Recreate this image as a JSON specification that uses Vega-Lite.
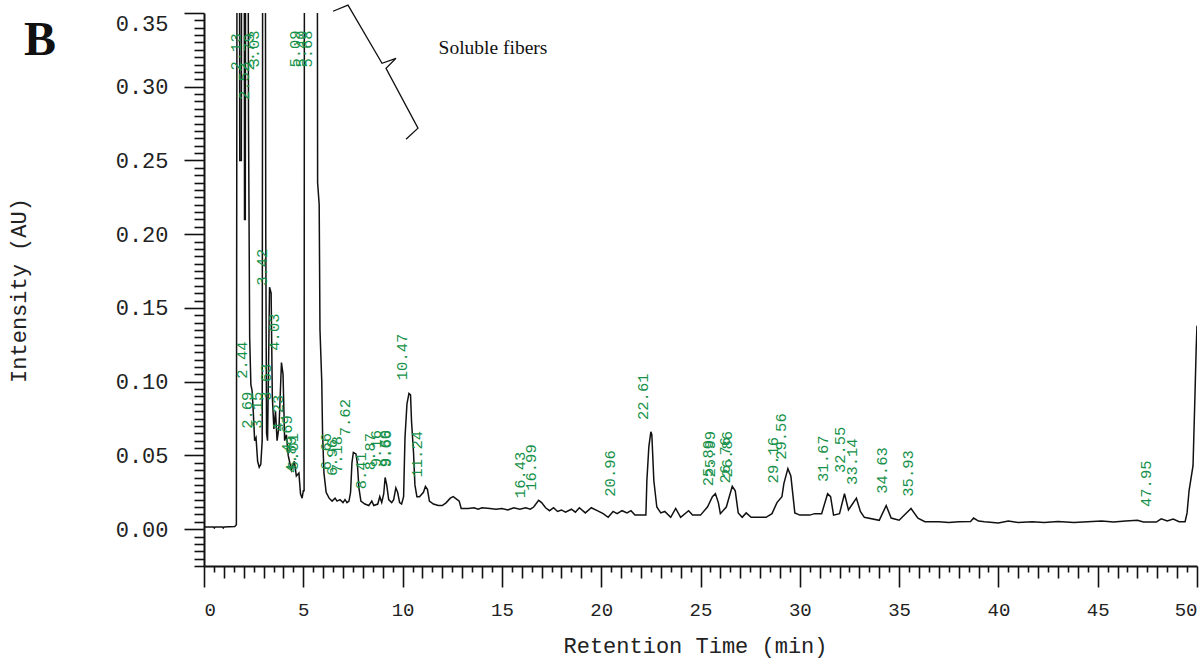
{
  "$schema": "https://vega.github.io/schema/vega-lite/v6.json",
  "width": 993,
  "height": 553,
  "autosize": {"type": "none"},
  "padding": {"left": 204, "top": 13, "right": 6, "bottom": 96},
  "background": "white",
  "config": {"view": {"stroke": null}},
  "title": {"text": "B", "anchor": "start", "frame": "group", "font": "Liberation Serif", "fontSize": 48, "fontWeight": "bold", "color": "#111", "baseline": "alphabetic", "dx": -180, "dy": 100, "offset": 0},
  "datasets": {
    "trace": [
      {"t":0,"v":0.0015},{"t":0.48,"v":0.0015},{"t":0.52,"v":0.0008},{"t":0.56,"v":0.0015},{"t":0.93,"v":0.0015},{"t":0.97,"v":0.0008},{"t":1.01,"v":0.0015},{"t":1.55,"v":0.0018},{"t":1.63,"v":0.003},
      {"t":1.67,"v":0.5},{"t":1.78,"v":0.5},{"t":1.80,"v":0.25},{"t":1.88,"v":0.25},{"t":1.90,"v":0.5},{"t":2.02,"v":0.5},{"t":2.04,"v":0.21},{"t":2.08,"v":0.21},{"t":2.10,"v":0.5},{"t":2.21,"v":0.5},{"t":2.24,"v":0.28},{"t":2.30,"v":0.13},{"t":2.36,"v":0.098},{"t":2.42,"v":0.094},{"t":2.48,"v":0.08},{"t":2.55,"v":0.06},{"t":2.62,"v":0.062},{"t":2.70,"v":0.046},{"t":2.78,"v":0.042},{"t":2.86,"v":0.044},{"t":2.93,"v":0.06},
      {"t":2.96,"v":0.5},{"t":3.08,"v":0.5},{"t":3.11,"v":0.2},{"t":3.15,"v":0.065},{"t":3.20,"v":0.06},{"t":3.25,"v":0.11},{"t":3.30,"v":0.164},{"t":3.38,"v":0.16},{"t":3.44,"v":0.09},{"t":3.52,"v":0.068},{"t":3.60,"v":0.08},{"t":3.68,"v":0.06},{"t":3.78,"v":0.07},{"t":3.90,"v":0.113},{"t":3.98,"v":0.105},{"t":4.06,"v":0.06},{"t":4.15,"v":0.064},{"t":4.24,"v":0.05},{"t":4.40,"v":0.04},{"t":4.55,"v":0.046},{"t":4.65,"v":0.036},{"t":4.78,"v":0.038},{"t":4.86,"v":0.024},{"t":4.94,"v":0.021},{"t":5.00,"v":0.026},{"t":5.04,"v":0.026},
      {"t":5.06,"v":0.5},{"t":5.70,"v":0.5},{"t":5.72,"v":0.235},{"t":5.80,"v":0.22},{"t":5.84,"v":0.135},{"t":5.93,"v":0.1},{"t":5.97,"v":0.065},{"t":6.04,"v":0.038},{"t":6.15,"v":0.025},
      {"t":6.30,"v":0.021},{"t":6.45,"v":0.019},{"t":6.60,"v":0.021},{"t":6.70,"v":0.019},{"t":6.85,"v":0.020},{"t":7.00,"v":0.018},{"t":7.10,"v":0.020},{"t":7.20,"v":0.018},{"t":7.30,"v":0.019},{"t":7.38,"v":0.025},{"t":7.45,"v":0.045},{"t":7.52,"v":0.052},{"t":7.65,"v":0.051},{"t":7.72,"v":0.045},{"t":7.80,"v":0.028},{"t":7.90,"v":0.019},{"t":8.10,"v":0.017},{"t":8.30,"v":0.016},{"t":8.45,"v":0.019},{"t":8.55,"v":0.016},{"t":8.75,"v":0.017},{"t":8.85,"v":0.022},{"t":8.95,"v":0.018},{"t":9.05,"v":0.024},{"t":9.12,"v":0.035},{"t":9.20,"v":0.030},{"t":9.30,"v":0.020},{"t":9.45,"v":0.018},{"t":9.55,"v":0.020},{"t":9.66,"v":0.028},{"t":9.75,"v":0.025},{"t":9.85,"v":0.018},{"t":9.95,"v":0.017},{"t":10.05,"v":0.022},{"t":10.12,"v":0.062},{"t":10.22,"v":0.085},{"t":10.32,"v":0.092},{"t":10.40,"v":0.091},{"t":10.45,"v":0.073},{"t":10.55,"v":0.052},{"t":10.62,"v":0.030},{"t":10.72,"v":0.022},{"t":10.85,"v":0.022},{"t":11.05,"v":0.025},{"t":11.15,"v":0.029},{"t":11.25,"v":0.027},{"t":11.35,"v":0.019},{"t":11.55,"v":0.017},{"t":11.80,"v":0.016},{"t":12.00,"v":0.016},{"t":12.20,"v":0.018},{"t":12.40,"v":0.021},{"t":12.55,"v":0.022},{"t":12.75,"v":0.020},{"t":12.85,"v":0.019},{"t":12.95,"v":0.014},
      {"t":13.3,"v":0.014},{"t":13.6,"v":0.0145},{"t":13.8,"v":0.0135},{"t":14.0,"v":0.0145},{"t":14.4,"v":0.014},{"t":14.7,"v":0.0135},{"t":15.0,"v":0.014},{"t":15.3,"v":0.013},{"t":15.6,"v":0.0145},{"t":15.9,"v":0.0135},{"t":16.2,"v":0.0145},{"t":16.43,"v":0.0135},{"t":16.6,"v":0.015},{"t":16.85,"v":0.0195},{"t":17.0,"v":0.018},{"t":17.2,"v":0.0145},{"t":17.4,"v":0.0125},{"t":17.6,"v":0.0145},{"t":17.8,"v":0.012},{"t":18.0,"v":0.013},{"t":18.2,"v":0.0115},{"t":18.5,"v":0.0135},{"t":18.7,"v":0.0115},{"t":18.9,"v":0.0145},{"t":19.2,"v":0.011},{"t":19.5,"v":0.0145},{"t":19.8,"v":0.0125},{"t":20.1,"v":0.0105},{"t":20.35,"v":0.008},{"t":20.6,"v":0.012},{"t":20.8,"v":0.0105},{"t":21.05,"v":0.0125},{"t":21.3,"v":0.011},{"t":21.5,"v":0.0125},{"t":21.7,"v":0.0095},{"t":22.0,"v":0.0095},{"t":22.25,"v":0.0095},
      {"t":22.3,"v":0.033},{"t":22.4,"v":0.056},{"t":22.5,"v":0.066},{"t":22.55,"v":0.064},{"t":22.65,"v":0.033},{"t":22.8,"v":0.015},{"t":23.0,"v":0.011},{"t":23.2,"v":0.012},{"t":23.5,"v":0.008},{"t":23.75,"v":0.014},{"t":24.0,"v":0.008},{"t":24.4,"v":0.0125},{"t":24.6,"v":0.0095},{"t":25.0,"v":0.0095},{"t":25.35,"v":0.015},{"t":25.6,"v":0.022},{"t":25.75,"v":0.024},{"t":25.9,"v":0.018},{"t":26.0,"v":0.0105},{"t":26.3,"v":0.015},{"t":26.6,"v":0.029},{"t":26.75,"v":0.026},{"t":26.9,"v":0.011},{"t":27.1,"v":0.008},{"t":27.3,"v":0.011},{"t":27.55,"v":0.008},{"t":28.3,"v":0.008},{"t":28.6,"v":0.0105},{"t":28.85,"v":0.018},{"t":29.1,"v":0.022},{"t":29.2,"v":0.031},{"t":29.4,"v":0.041},{"t":29.55,"v":0.036},{"t":29.75,"v":0.011},{"t":30.0,"v":0.0095},{"t":30.5,"v":0.0095},{"t":30.75,"v":0.0105},{"t":31.1,"v":0.0105},{"t":31.4,"v":0.024},{"t":31.55,"v":0.022},{"t":31.7,"v":0.0095},{"t":32.0,"v":0.0105},{"t":32.25,"v":0.024},{"t":32.45,"v":0.013},{"t":32.6,"v":0.016},{"t":32.85,"v":0.021},{"t":33.05,"v":0.012},{"t":33.25,"v":0.008},{"t":34.0,"v":0.006},{"t":34.35,"v":0.016},{"t":34.6,"v":0.0075},{"t":35.0,"v":0.006},{"t":35.6,"v":0.014},{"t":35.95,"v":0.0075},{"t":36.3,"v":0.005},
      {"t":37.0,"v":0.005},{"t":37.5,"v":0.0045},{"t":38.0,"v":0.005},{"t":38.6,"v":0.0052},{"t":38.75,"v":0.0075},{"t":39.0,"v":0.0055},{"t":39.3,"v":0.005},{"t":40.0,"v":0.0042},{"t":40.5,"v":0.0055},{"t":41.0,"v":0.0045},{"t":41.7,"v":0.005},{"t":42.3,"v":0.0045},{"t":43.0,"v":0.0052},{"t":43.8,"v":0.0045},{"t":44.5,"v":0.005},{"t":45.2,"v":0.0055},{"t":45.8,"v":0.0048},{"t":46.4,"v":0.0055},{"t":47.0,"v":0.006},{"t":47.3,"v":0.0048},{"t":47.95,"v":0.0048},{"t":48.2,"v":0.007},{"t":48.5,"v":0.0055},{"t":48.8,"v":0.0068},{"t":49.1,"v":0.005},{"t":49.4,"v":0.005},{"t":49.5,"v":0.011},{"t":49.6,"v":0.026},{"t":49.8,"v":0.043},{"t":49.9,"v":0.092},{"t":49.96,"v":0.123},{"t":50.0,"v":0.138}
    ],
    "peaks": [
      {"t":2.13,"v":0.311,"label":"2.13"},{"t":2.52,"v":0.291,"label":"2.52"},{"t":2.79,"v":0.311,"label":"2.79"},{"t":3.03,"v":0.313,"label":"3.03"},{"t":5.09,"v":0.313,"label":"5.09"},{"t":5.40,"v":0.313,"label":"5.40"},{"t":5.68,"v":0.313,"label":"5.68"},
      {"t":2.44,"v":0.102,"label":"2.44"},{"t":2.69,"v":0.068,"label":"2.69"},{"t":3.15,"v":0.068,"label":"3.15"},{"t":3.42,"v":0.165,"label":"3.42"},{"t":3.63,"v":0.087,"label":"3.63"},{"t":4.03,"v":0.121,"label":"4.03"},{"t":4.23,"v":0.066,"label":"4.23"},{"t":4.69,"v":0.052,"label":"4.69"},{"t":4.89,"v":0.038,"label":"4.89"},{"t":5.01,"v":0.040,"label":"5.01"},
      {"t":6.66,"v":0.040,"label":"6.66"},{"t":6.96,"v":0.036,"label":"6.96"},{"t":7.18,"v":0.038,"label":"7.18"},{"t":7.62,"v":0.063,"label":"7.62"},{"t":8.41,"v":0.027,"label":"8.41"},{"t":8.87,"v":0.04,"label":"8.87"},{"t":9.16,"v":0.042,"label":"9.16"},{"t":9.60,"v":0.042,"label":"9.60"},{"t":9.66,"v":0.042,"label":"9.66"},
      {"t":10.47,"v":0.101,"label":"10.47"},{"t":11.24,"v":0.035,"label":"11.24"},{"t":16.43,"v":0.021,"label":"16.43"},{"t":16.99,"v":0.026,"label":"16.99"},{"t":20.96,"v":0.022,"label":"20.96"},{"t":22.61,"v":0.074,"label":"22.61"},
      {"t":25.89,"v":0.029,"label":"25.89"},{"t":25.99,"v":0.035,"label":"25.99"},{"t":26.76,"v":0.031,"label":"26.76"},{"t":26.86,"v":0.035,"label":"26.86"},{"t":29.16,"v":0.031,"label":"29.16"},{"t":29.56,"v":0.047,"label":"29.56"},{"t":31.67,"v":0.032,"label":"31.67"},{"t":32.55,"v":0.038,"label":"32.55"},{"t":33.14,"v":0.030,"label":"33.14"},{"t":34.63,"v":0.024,"label":"34.63"},{"t":35.93,"v":0.022,"label":"35.93"},{"t":47.95,"v":0.015,"label":"47.95"}
    ],
    "brace": [
      {"i":1,"t":6.495,"v":0.3512},{"i":2,"t":7.251,"v":0.3553},{"i":3,"t":8.963,"v":0.3159},{"i":4,"t":9.668,"v":0.3193},{"i":5,"t":9.164,"v":0.3125},{"i":6,"t":10.775,"v":0.2719},{"i":7,"t":10.171,"v":0.2644}
    ],
    "notes": [{"t":14.55,"v":0.326,"label":"Soluble fibers"}]
  },
  "encoding": {
    "x": {
      "field": "t", "type": "quantitative",
      "scale": {"domain": [0, 50], "nice": false, "zero": false},
      "axis": {
        "title": "Retention Time (min)",
        "titleFont": "Liberation Mono", "titleFontSize": 22, "titleFontWeight": "normal", "titleColor": "#222",
        "titleX": 491, "titleY": 79, "titleBaseline": "middle", "titleAlign": "center",
        "values": [0,0.5,1,1.5,2,2.5,3,3.5,4,4.5,5,5.5,6,6.5,7,7.5,8,8.5,9,9.5,10,10.5,11,11.5,12,12.5,13,13.5,14,14.5,15,15.5,16,16.5,17,17.5,18,18.5,19,19.5,20,20.5,21,21.5,22,22.5,23,23.5,24,24.5,25,25.5,26,26.5,27,27.5,28,28.5,29,29.5,30,30.5,31,31.5,32,32.5,33,33.5,34,34.5,35,35.5,36,36.5,37,37.5,38,38.5,39,39.5,40,40.5,41,41.5,42,42.5,43,43.5,44,44.5,45,45.5,46,46.5,47,47.5,48,48.5,49,49.5,50],
        "labelExpr": "datum.value % 5 === 0 ? format(datum.value, 'd') : ''",
        "labelOverlap": false, "labelBound": false, "labelFlush": true,
        "labelFont": "Liberation Mono", "labelFontSize": 19, "labelColor": "#222", "labelPadding": 13,
        "tickSize": {"condition": [{"test": "datum.value % 5 === 0", "value": 21}, {"test": "datum.value % 1 === 0", "value": 12}], "value": 6},
        "tickColor": "#111", "tickWidth": 1.6,
        "domainColor": "#111", "domainWidth": 2, "grid": false
      }
    },
    "y": {
      "field": "v", "type": "quantitative",
      "scale": {"domain": [-0.025, 0.35], "nice": false, "zero": false},
      "axis": {
        "title": "Intensity (AU)",
        "titleFont": "Liberation Mono", "titleFontSize": 22, "titleFontWeight": "normal", "titleColor": "#222",
        "titleX": -186, "titleY": 277, "titleBaseline": "middle", "titleAlign": "center", "titleAngle": -90,
        "values": [-0.025,-0.02,-0.015,-0.01,-0.005,0,0.005,0.01,0.015,0.02,0.025,0.03,0.035,0.04,0.045,0.05,0.055,0.06,0.065,0.07,0.075,0.08,0.085,0.09,0.095,0.1,0.105,0.11,0.115,0.12,0.125,0.13,0.135,0.14,0.145,0.15,0.155,0.16,0.165,0.17,0.175,0.18,0.185,0.19,0.195,0.2,0.205,0.21,0.215,0.22,0.225,0.23,0.235,0.24,0.245,0.25,0.255,0.26,0.265,0.27,0.275,0.28,0.285,0.29,0.295,0.3,0.305,0.31,0.315,0.32,0.325,0.33,0.335,0.34,0.345,0.35],
        "labelExpr": "abs(datum.value * 20 - round(datum.value * 20)) < 0.000001 && datum.value > -0.01 ? format(datum.value, '.2f') : ''",
        "labelOverlap": false, "labelBound": false, "labelFlush": 3,
        "labelFont": "Liberation Mono", "labelFontSize": 22, "labelColor": "#222", "labelPadding": 16,
        "tickSize": {"condition": {"test": "abs(datum.value * 20 - round(datum.value * 20)) < 0.000001", "value": 20}, "value": 10},
        "tickColor": "#111", "tickWidth": 1.6,
        "domainColor": "#111", "domainWidth": 2, "grid": false
      }
    }
  },
  "layer": [
    {
      "data": {"name": "trace"},
      "mark": {"type": "line", "clip": true, "color": "#111", "strokeWidth": 1.5, "interpolate": "linear"}
    },
    {
      "data": {"name": "peaks"},
      "mark": {"type": "text", "angle": 270, "align": "left", "baseline": "alphabetic", "dy": -5, "font": "Liberation Mono", "fontSize": 15.5, "color": "#17914a"},
      "encoding": {"text": {"field": "label"}}
    },
    {
      "data": {"name": "brace"},
      "mark": {"type": "line", "clip": false, "color": "#111", "strokeWidth": 1.3},
      "encoding": {"order": {"field": "i"}}
    },
    {
      "data": {"name": "notes"},
      "mark": {"type": "text", "font": "Liberation Serif", "fontSize": 19.5, "color": "#111", "align": "center", "baseline": "middle"},
      "encoding": {"text": {"field": "label"}}
    }
  ]
}
